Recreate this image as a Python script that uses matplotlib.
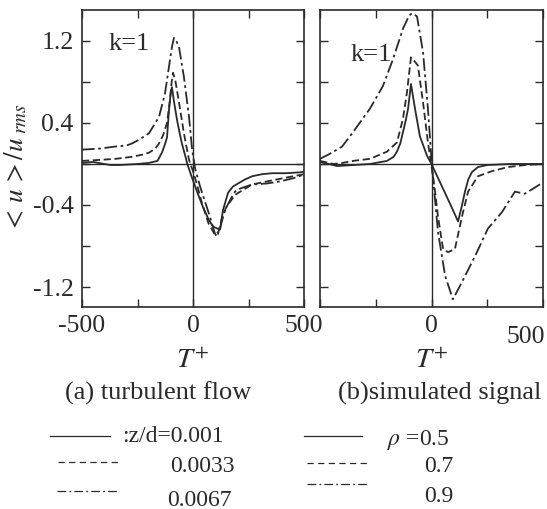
import matplotlib
matplotlib.use("Agg")
import matplotlib.pyplot as plt
from matplotlib.lines import Line2D

plt.rcParams['font.family'] = ['Liberation Serif', 'DejaVu Serif']
plt.rcParams['mathtext.fontset'] = 'stix'

# (a) turbulent flow
t_a1 = [-500, -450, -400, -370, -330, -250, -200, -160, -140, -125, -117, -108, -100, -95,
        -85, -72, -60, -50, -35, -27, -10, 0, 20, 45, 70, 90, 110, 122, 135, 158, 180, 203,
        235, 266, 310, 356, 420, 491, 500]
u_a1 = [0.01, 0.02, 0.0, -0.01, -0.01, 0.0, 0.01, 0.03, 0.11, 0.2, 0.26, 0.53, 0.7, 0.75,
        0.6, 0.43, 0.3, 0.2, 0.08, 0.01, -0.1, -0.16, -0.28, -0.42, -0.54, -0.61, -0.63, -0.64,
        -0.45, -0.28, -0.22, -0.19, -0.15, -0.12, -0.1, -0.09, -0.09, -0.08, -0.07]

t_a2 = [-500, -420, -350, -275, -230, -198, -170, -153, -135, -117, -104, -96, -90, -80, -63,
        -41, -18, 0, 18, 40, 70, 99, 115, 130, 150, 190, 266, 356, 450, 500]
u_a2 = [0.03, 0.04, 0.05, 0.07, 0.09, 0.11, 0.15, 0.2, 0.28, 0.4, 0.62, 0.8, 0.89, 0.82, 0.6,
        0.3, 0.04, -0.07, -0.2, -0.38, -0.58, -0.69, -0.66, -0.53, -0.42, -0.3, -0.2, -0.16,
        -0.12, -0.1]

t_a3 = [-500, -420, -351, -300, -275, -240, -198, -153, -126, -104, -94, -86, -75, -63, -41,
        -18, -4, 10, 32, 77, 99, 108, 125, 144, 170, 189, 212, 266, 333, 392, 450, 491, 500]
u_a3 = [0.14, 0.15, 0.17, 0.18, 0.2, 0.24, 0.3, 0.46, 0.69, 1.01, 1.15, 1.23, 1.2, 1.14, 0.85,
        0.46, 0.14, -0.05, -0.22, -0.52, -0.68, -0.71, -0.6, -0.45, -0.34, -0.27, -0.24, -0.2,
        -0.19, -0.17, -0.14, -0.11, -0.1]

# (b) simulated signal
t_b1 = [-500, -460, -424, -350, -276, -200, -170, -155, -140, -128, -115, -105, -92, -83, -74,
        -52, -20, 0, 30, 60, 90, 119, 135, 150, 165, 181, 208, 250, 350, 450, 500]
u_b1 = [0.02, 0.0, -0.02, -0.01, 0.0, 0.03, 0.07, 0.12, 0.2, 0.31, 0.43, 0.54, 0.78, 0.66, 0.54,
        0.27, 0.08, 0.0, -0.14, -0.28, -0.42, -0.56, -0.42, -0.27, -0.15, -0.08, -0.03, -0.01,
        0.0, 0.0, 0.0]

t_b2 = [-500, -440, -400, -352, -276, -200, -155, -128, -110, -92, -75, -61, -38, -16, 0, 15,
        29, 52, 74, 105, 120, 137, 164, 208, 271, 343, 420, 500]
u_b2 = [0.03, 0.0, 0.01, 0.03, 0.05, 0.12, 0.21, 0.44, 0.7, 1.04, 1.0, 0.96, 0.6, 0.21, -0.02,
        -0.25, -0.51, -0.83, -0.86, -0.83, -0.68, -0.51, -0.27, -0.12, -0.07, -0.03, -0.01, 0.0]

t_b3 = [-500, -455, -401, -352, -276, -218, -173, -128, -100, -87, -65, -38, -16, 2, 29, 61,
        96, 137, 195, 253, 316, 374, 419, 478, 500]
u_b3 = [0.05, 0.1, 0.17, 0.31, 0.54, 0.76, 1.02, 1.32, 1.45, 1.47, 1.44, 1.09, 0.54, -0.02,
        -0.66, -1.09, -1.32, -1.15, -0.9, -0.63, -0.47, -0.27, -0.29, -0.21, -0.18]

zd_labels = [':z/d=0.001', '0.0033', '0.0067']
rho_labels = [r'$\rho$ =0.5', '0.7', '0.9']
x_ticks = [-500, -250, 0, 250, 500]
y_ticks = [-1.2, -0.8, -0.4, 0, 0.4, 0.8, 1.2]
y_ticklabels = ['-1.2', '', '-0.4', '', '0.4', '', '1.2']

W, H = 547, 509
fs = 18.5
col = '#2a2a2a'
styles = [dict(ls='-'), dict(ls=(0, (4, 2))), dict(ls=(0, (7, 2, 1.5, 2)))]
leg_styles = [dict(ls='-'), dict(ls=(0, (5, 3.5))), dict(ls=(0, (7, 2.5, 1.5, 2.5)))]

fig = plt.figure(figsize=(W / 100, H / 100), dpi=100)
ax1 = fig.add_axes([82 / W, 1 - 307 / H, 222 / W, 297 / H])
ax2 = fig.add_axes([320 / W, 1 - 307 / H, 223 / W, 297 / H])

for ax, curves in [(ax1, [(t_a1, u_a1), (t_a2, u_a2), (t_a3, u_a3)]),
                   (ax2, [(t_b1, u_b1), (t_b2, u_b2), (t_b3, u_b3)])]:
    for (t, u), st in zip(curves, styles):
        ax.plot(t, u, color=col, lw=1.3, **st)
    ax.axhline(0, color=col, lw=1.0)
    ax.axvline(0, color=col, lw=1.0)
    ax.set_xlim(-500, 500)
    ax.set_ylim(-1.395, 1.502)
    ax.set_xticks(x_ticks)
    ax.set_yticks(y_ticks)
    ax.tick_params(direction='in', length=6, width=1.0, top=True, right=True,
                   labelsize=fs, colors=col, pad=6)
    for s in ax.spines.values():
        s.set_linewidth(1.2)
        s.set_color(col)
    ax.set_xlabel(r'$T^{+}$', fontsize=fs + 2, labelpad=8, color=col)

ax1.set_xticklabels(['-500', '', '0', '', '500'])
ax1.set_yticklabels(y_ticklabels)
ax2.set_xticklabels(['', '', '0', '', ''])
ax2.set_yticklabels([])
ax1.set_ylabel(r'${<}\,u\,{>}/u_{\ rms}$', fontsize=fs + 1, color=col)
ax1.yaxis.set_label_coords(-0.235, 0.468)

fig.text(526 / W, 1 - 337 / H, '500', fontsize=fs, ha='center', va='center', color=col)
ax1.text(0.212, 0.886, 'k=1', transform=ax1.transAxes, fontsize=fs + 0.5, ha='center', va='center', color=col)
ax2.text(0.229, 0.848, 'k=1', transform=ax2.transAxes, fontsize=fs + 0.5, ha='center', va='center', color=col)

fig.text(158 / W, 1 - 393 / H, '(a) turbulent flow', fontsize=fs + 0.5, ha='center', va='center', color=col)
fig.text(440 / W, 1 - 393 / H, '(b)simulated signal', fontsize=fs + 0.5, ha='center', va='center', color=col)

# legend rows
leg_a = [((50, 110), 436, (122, 437)), ((58, 118), 462, (170, 466)), ((57, 118), 491, (167, 500))]
leg_b = [((304, 362), 436, (387, 440)), ((307, 367), 463, (424, 467)), ((307, 367), 484, (424, 497))]
for rows, labels in [(leg_a, zd_labels), (leg_b, rho_labels)]:
    for (xs, yl, (xt, yt)), st, lab in zip(rows, leg_styles, labels):
        fig.add_artist(Line2D([xs[0] / W, xs[1] / W], [1 - yl / H, 1 - yl / H],
                              transform=fig.transFigure, color=col, lw=0.9, **st))
        fig.text(xt / W, 1 - yt / H, lab, fontsize=17, ha='left', va='center', color=col)

fig.savefig('out.png', dpi=100)
